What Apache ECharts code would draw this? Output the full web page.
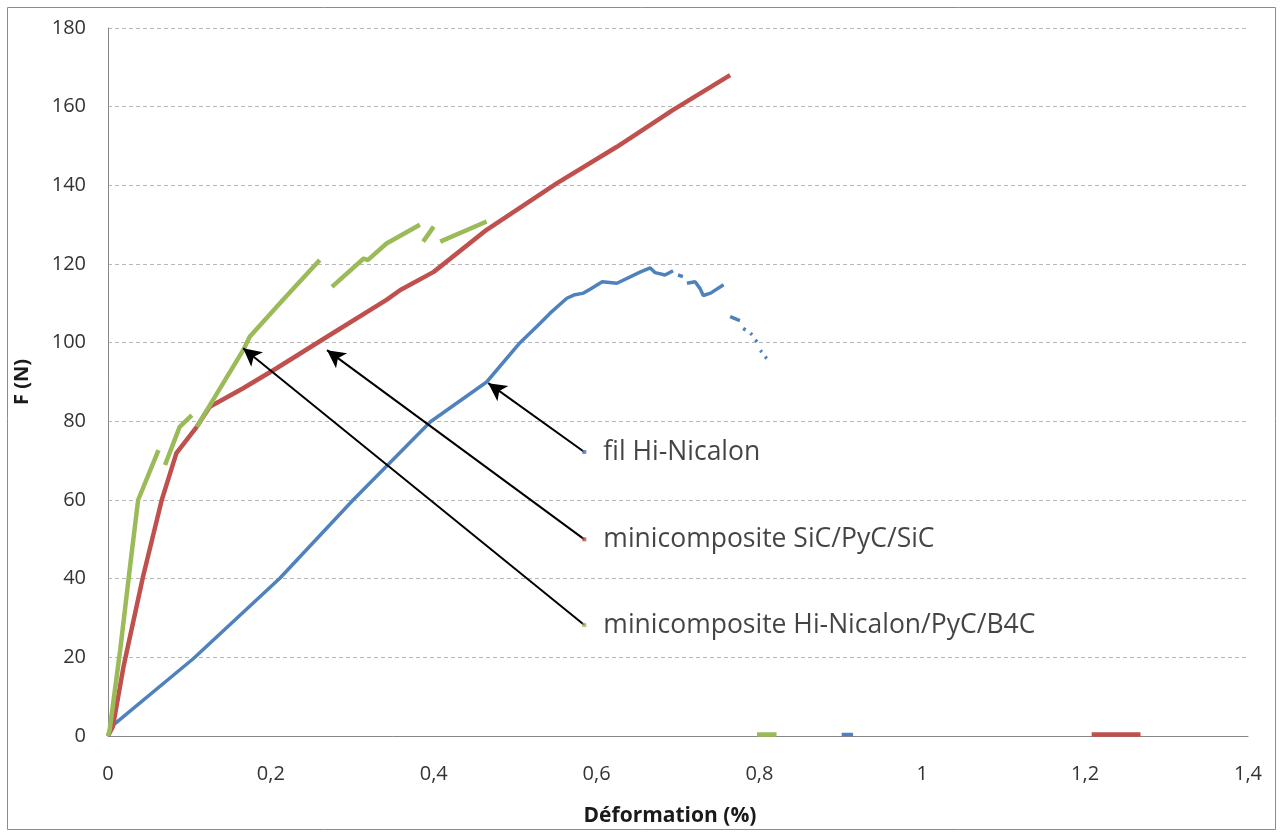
<!DOCTYPE html>
<html>
<head>
<meta charset="utf-8">
<script src="https://cdn.jsdelivr.net/npm/echarts@6/dist/echarts.min.js"></script>
<style>
html,body{margin:0;padding:0;background:#fff;}
#chart{width:1282px;height:832px;}
</style>
</head>
<body>
<div id="chart"></div>
<script>
// ---- data (x = Déformation %, y = F in N); null breaks a curve ----
const seriesNames = ['fil Hi-Nicalon', 'minicomposite SiC/PyC/SiC', 'minicomposite Hi-Nicalon/PyC/B4C'];

const blueData = [
  [0.003,2.2],[0.105,19.7],[0.211,40.1],[0.301,60],[0.396,79.9],[0.465,90],[0.506,100],
  [0.531,105],[0.543,107.5],[0.5635,111.3],[0.572,112.1],[0.584,112.6],[0.592,113.6],[0.607,115.5],
  [0.625,115.1],[0.654,118],[0.666,119],[0.672,117.8],[0.684,117.2],[0.694,118.3],null,
  [0.7,117.2],[0.706,116.8],null,[0.711,115.1],[0.721,115.5],[0.727,113.8],[0.731,112],
  [0.74,112.6],[0.756,114.7],null,
  [0.764,106.6],[0.776,105.6],null,[0.78,103.6],[0.783,103.2],null,[0.789,102.4],[0.791,102],null,
  [0.795,100.7],[0.797,100.2],null,[0.801,98],[0.803,97.6],null,[0.807,96.4],[0.809,96],null,
  [0.901,0.4],[0.915,0.4]
];

const redData = [
  [0,0],[0.006,2.4],[0.019,17.6],[0.043,40.5],[0.066,60],[0.084,71.9],[0.109,78.6],[0.125,83.7],
  [0.166,88.4],[0.207,93.5],[0.269,101.5],[0.342,110.9],[0.359,113.4],[0.4,118],[0.465,128.7],
  [0.551,140.5],[0.625,149.8],[0.694,159.2],[0.764,168],null,
  [1.208,0.4],[1.268,0.4]
];

const greenData = [
  [0,0],[0.002,1.5],[0.015,21.9],[0.027,43],[0.037,60],[0.062,72.7],null,
  [0.07,68.9],[0.088,78.6],[0.103,81.6],null,
  [0.109,78.6],[0.166,98.1],[0.174,101.5],[0.215,110.9],[0.26,121],null,
  [0.275,114.2],[0.314,121.4],[0.319,121],[0.342,125.2],[0.383,130],null,
  [0.387,125.7],[0.4,129.5],null,
  [0.408,125.7],[0.465,130.8],null,
  [0.797,0.4],[0.821,0.4]
];

// annotation points (label anchors) and arrow tips
const labelPoints = [[0.585,72.2],[0.585,50],[0.585,28.2]];
const arrowTips = [[0.467,89.7],[0.269,98.1],[0.166,98.6]];

const xMin = 0, xMax = 1.4, xStep = 0.2;
const yMin = 0, yMax = 180, yStep = 20;

const colors = ['#4F81BD', '#C0504D', '#9BBB59'];
const font = '"Open Sans", "Noto Sans", sans-serif';

const chart = echarts.init(document.getElementById('chart'), null, {renderer: 'canvas'});

const curveSeries = [blueData, redData, greenData].map((d, i) => ({
  name: seriesNames[i],
  type: 'line',
  data: d,
  showSymbol: false,
  connectNulls: false,
  silent: true,
  lineStyle: {color: colors[i], width: i === 0 ? 3.5 : 4.5},
  itemStyle: {color: colors[i]},
  z: 3 + (i === 2 ? 1 : 0)
}));

const labelSeries = {
  type: 'scatter',
  silent: true,
  symbol: 'rect',
  symbolSize: 4,
  data: labelPoints.map((p, i) => ({
    value: p,
    name: seriesNames[i],
    itemStyle: {color: colors[i]}
  })),
  label: {
    show: true,
    position: 'right',
    distance: 17,
    formatter: p => p.name,
    color: '#151515',
    fontFamily: font,
    fontSize: 26.5
  },
  markLine: {
    silent: true,
    symbol: ['none', 'arrow'],
    symbolSize: [14, 18],
    label: {show: false},
    lineStyle: {color: '#000', width: 2, type: 'solid'},
    data: labelPoints.map((p, i) => [{coord: p}, {coord: arrowTips[i]}])
  },
  z: 6
};

const fmt = v => String(+v.toFixed(1)).replace('.', ',');

chart.setOption({
  animation: false,
  backgroundColor: '#fff',
  grid: {left: 108, right: 34, top: 28, bottom: 96, containLabel: false},
  graphic: [{
    type: 'rect',
    shape: {x: 7.5, y: 7.5, width: 1268, height: 822},
    style: {fill: 'none', stroke: '#8c8c8c', lineWidth: 1},
    silent: true, z: -1
  }],
  xAxis: {
    type: 'value',
    min: xMin, max: xMax, interval: xStep,
    name: 'Déformation (%)',
    nameLocation: 'middle',
    nameGap: 70,
    nameTextStyle: {fontFamily: font, fontSize: 21, fontWeight: 'bold', color: '#1a1a1a', padding: [0, 16, 0, 0]},
    axisLine: {show: true, onZero: false, lineStyle: {color: '#868686', width: 1}},
    axisTick: {show: false},
    splitLine: {show: false},
    axisLabel: {formatter: fmt, margin: 28, fontFamily: font, fontSize: 20, color: '#333'}
  },
  yAxis: {
    type: 'value',
    min: yMin, max: yMax, interval: yStep,
    name: 'F (N)',
    nameLocation: 'middle',
    nameGap: 76,
    nameRotate: 90,
    nameTextStyle: {fontFamily: font, fontSize: 20, fontWeight: 'bold', color: '#1a1a1a'},
    axisLine: {show: true, lineStyle: {color: '#868686', width: 1}},
    axisTick: {show: false},
    splitLine: {show: true, lineStyle: {color: '#b8b8b8', width: 1, type: [4, 3]}},
    axisLabel: {formatter: fmt, margin: 22, fontFamily: font, fontSize: 20, color: '#333'}
  },
  series: [...curveSeries, labelSeries]
});
</script>
</body>
</html>
